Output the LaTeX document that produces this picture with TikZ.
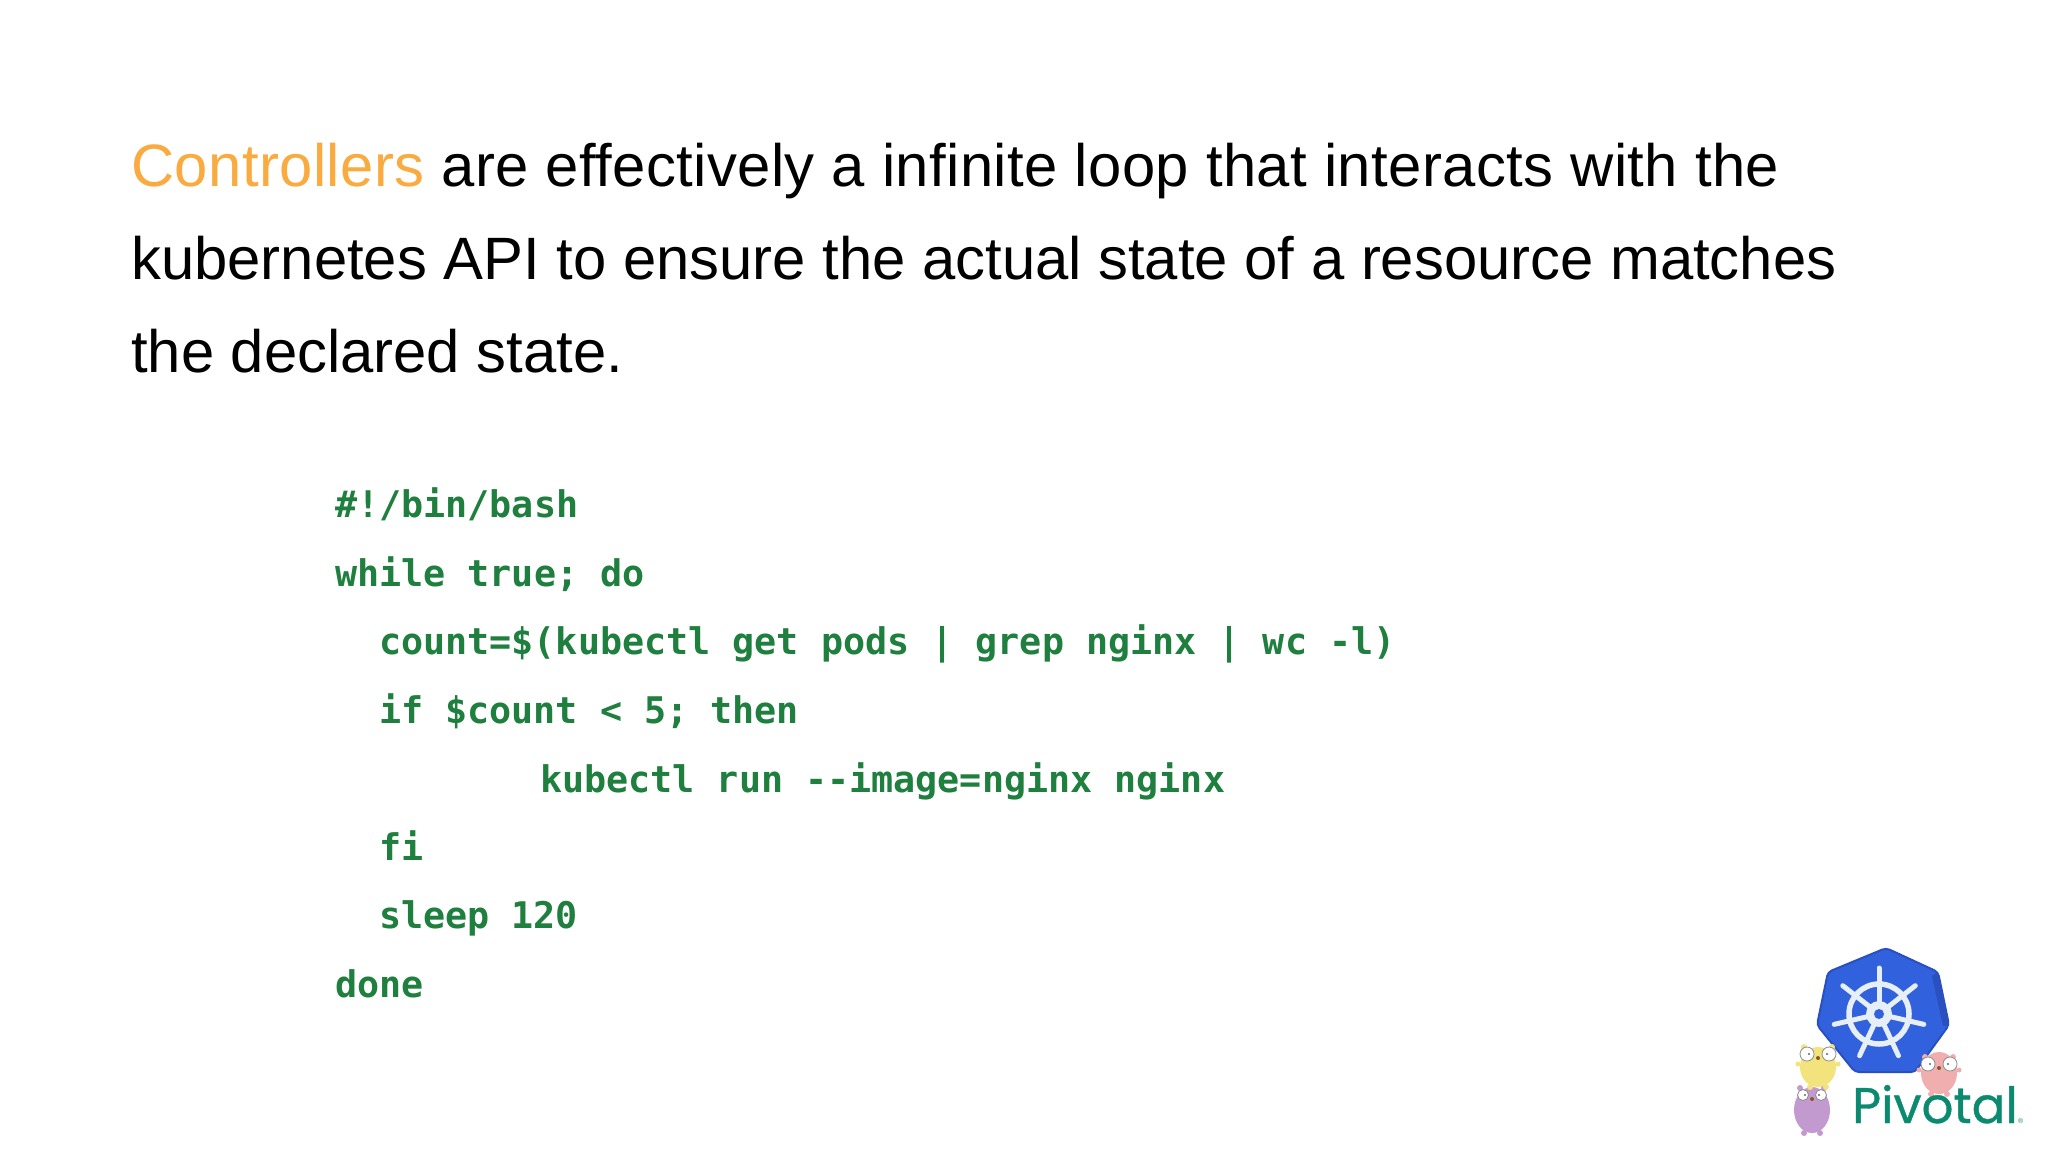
\documentclass[tikz,border=0pt]{standalone}
\usepackage{fontspec}
\setmainfont{Liberation Sans}
\newfontfamily\codefont{DejaVu Sans Mono}
\newfontfamily\logofont[FakeBold=0.7]{Poppins}
\definecolor{ctrlorange}{HTML}{F9AB40}
\definecolor{codegreen}{HTML}{1F7F3E}
\definecolor{kubeblue}{HTML}{3161DD}
\definecolor{kubeedge}{HTML}{2A50C0}
\definecolor{wheelwhite}{HTML}{E6EEF6}
\definecolor{pivotalteal}{HTML}{0B8A70}
\definecolor{gopheryellow}{HTML}{F3E37C}
\definecolor{gopherpink}{HTML}{F0AFAE}
\definecolor{gopherpurple}{HTML}{C39AD0}
\tikzset{
  headline/.style={anchor=base west,inner sep=0pt,font=\fontsize{59.8}{60}\selectfont},
  codeline/.style={anchor=base west,inner sep=0pt,text=codegreen,font=\codefont\bfseries\fontsize{36.7}{36.7}\selectfont},
  spoke/.style={wheelwhite,line width=5pt,line cap=round}
}
\begin{document}
\begin{tikzpicture}[x=1pt,y=-1pt]
\useasboundingbox (0,0) rectangle (2048,1152);
\fill [white] (0,0) rectangle (2048,1152);

\node [headline] (line1) at (131,186) {\addfontfeature{LetterSpace=0.7}\textcolor{ctrlorange}{Controllers} are effectively a infinite loop that interacts with the};
\node [headline] (line2) at (131,279) {kubernetes API to ensure the actual state of a resource matches};
\node [headline] (line3) at (131,372) {the declared state.};

\node [codeline] (shebang) at (335,517) {\#!/bin/bash};
\node [codeline] (while) at (335,586) {while true; do};
\node [codeline] (count) at (379,654) {count=\$(kubectl get pods | grep nginx | wc -l)};
\node [codeline] (iftest) at (379,723) {if \$count < 5; then};
\node [codeline] (run) at (540,792) {kubectl run -{}-image=nginx nginx};
\node [codeline] (fi) at (379,860) {fi};
\node [codeline] (sleep) at (379,928) {sleep 120};
\node [codeline] (done) at (335,997) {done};

% logo
\coordinate (hub) at (1879,1014);
\draw [fill=kubeblue,draw=kubeedge,line width=2pt,line join=round,rounded corners=4pt]
  (1886,948) -- (1938,972) -- (1949,1025) -- (1915,1072) -- (1855,1072) -- (1817,1025) -- (1828,972) -- cycle;
\fill [kubeedge] (1938,972) -- (1949,1025) -- (1943,1026) -- (1932,976) -- cycle;

\foreach \a in {90,38,-13,-65,-115,-167,142}
    \draw [spoke] (hub) -- ++(\a:46pt);
\draw [wheelwhite,line width=5.5pt] (hub) circle (30pt);
\fill [wheelwhite] (hub) circle (13pt);
\fill [kubeblue] (hub) circle (5pt);

% gophers
\foreach \cx/\cy/\col/\rx/\ry/\ex/\ey/\er/\ar in {1812/1110/gopherpurple/18/23/9/15/5.5/0, 1818/1067/gopheryellow/18/20/11/13/7/2.5, 1939/1073/gopherpink/18/21/11/9/7/2.5}
{
    \fill [\col] (\cx-\ex-3,\cy-\ey-7) circle (3pt) (\cx+\ex+3,\cy-\ey-7) circle (3pt);
    \fill [\col] (\cx-\rx-2,\cy-3) circle ({\ar*1pt}) (\cx+\rx+2,\cy-3) circle ({\ar*1pt});
    \fill [\col] (\cx-8,\cy+\ry) circle (3pt) (\cx+8,\cy+\ry) circle (3pt);
    \fill [\col] (\cx,\cy) ellipse ({\rx*1pt} and {\ry*1pt});
    \draw [fill=white,draw=black!45,line width=0.8pt] (\cx-\ex,\cy-\ey) circle ({\er*1pt}) (\cx+\ex,\cy-\ey) circle ({\er*1pt});
    \fill [black!60] (\cx-\ex+2,\cy-\ey) circle (1.2pt) (\cx+\ex-2,\cy-\ey) circle (1.2pt);
    \fill [brown!70!black] (\cx,\cy-\ey+4) circle (2pt);
}

\node [anchor=base west,inner sep=0pt,text=pivotalteal,font=\logofont\fontsize{50}{50}\selectfont] (pivotal) at (1852,1123) {Pivotal};
\node [anchor=base west,inner sep=0pt,text=pivotalteal,font=\fontsize{7}{7}\selectfont] (regmark) at (pivotal.base east) {®};
\end{tikzpicture}
\end{document}
